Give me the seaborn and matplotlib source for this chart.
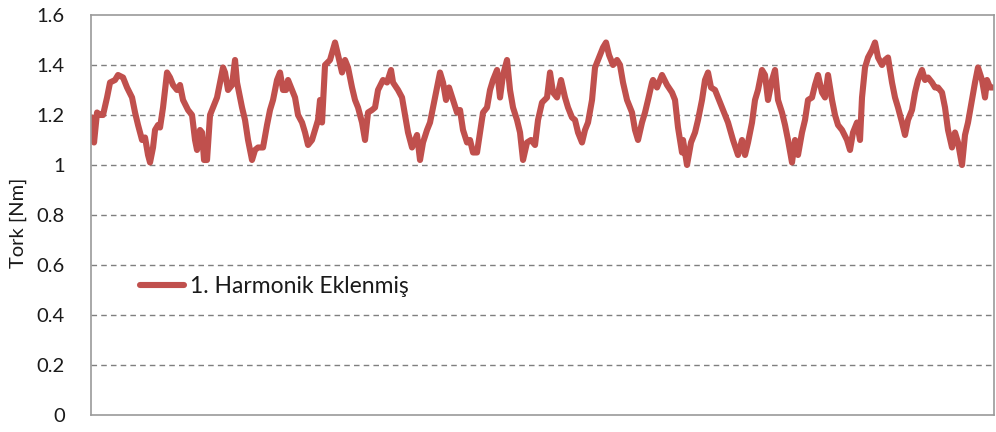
import matplotlib
matplotlib.use("Agg")
import matplotlib.pyplot as plt
import seaborn as sns
import pandas as pd

# Torque trace with the 1st harmonic injected (sample index, torque in Nm)
sample = [1, 3, 6, 9, 12, 16, 19, 24, 27, 32, 36, 41, 44, 47, 51, 54, 57, 59, 62, 64,
          67, 69, 72, 76, 79, 82, 86, 89, 92, 97, 101, 104, 106, 109, 111, 113, 116, 119, 122, 126,
          129, 132, 134, 137, 141, 144, 146, 151, 154, 157, 161, 164, 167, 172, 176, 179, 182, 186, 189, 192,
          195, 197, 201, 204, 207, 211, 214, 217, 221, 224, 227, 229, 231, 234, 239, 244, 247, 251, 254, 257,
          261, 264, 267, 271, 274, 277, 281, 284, 287, 292, 296, 300, 302, 307, 311, 314, 317, 321, 326, 329,
          332, 336, 339, 342, 346, 349, 352, 355, 358, 362, 366, 369, 372, 376, 379, 382, 386, 389, 392, 396,
          399, 402, 406, 409, 412, 416, 419, 422, 426, 429, 432, 436, 440, 444, 447, 451, 456, 459, 462, 466,
          470, 474, 477, 481, 484, 487, 491, 494, 497, 501, 504, 507, 512, 515, 518, 522, 526, 529, 532, 536,
          541, 544, 547, 551, 554, 557, 561, 562, 566, 571, 576, 581, 584, 587, 587, 591, 592, 596, 600, 604,
          607, 611, 614, 617, 620, 624, 629, 633, 637, 642, 647, 651, 654, 657, 661, 664, 667, 671, 674, 677,
          681, 684, 687, 691, 694, 697, 701, 704, 707, 711, 714, 717, 721, 724, 727, 731, 734, 737, 741, 744,
          747, 751, 756, 759, 762, 766, 769, 771, 774, 777, 781, 784, 787, 791, 794, 797, 801, 804, 807, 811,
          814, 817, 821, 824, 827, 831, 834, 837, 841, 844, 847, 851, 854, 857, 861, 864, 867, 871, 874, 877,
          881, 884, 887, 891, 894, 896, 899, 902]
torque = [1.19, 1.09, 1.21, 1.20, 1.20, 1.27, 1.33, 1.34, 1.36, 1.35, 1.31, 1.27, 1.21, 1.16, 1.10, 1.11, 1.04, 1.01, 1.07, 1.14,
          1.16, 1.15, 1.23, 1.37, 1.35, 1.32, 1.30, 1.32, 1.26, 1.22, 1.20, 1.10, 1.06, 1.14, 1.13, 1.02, 1.02, 1.20, 1.23, 1.27,
          1.33, 1.39, 1.37, 1.30, 1.32, 1.42, 1.33, 1.23, 1.18, 1.10, 1.02, 1.06, 1.07, 1.07, 1.16, 1.22, 1.26, 1.34, 1.37, 1.30,
          1.30, 1.34, 1.30, 1.27, 1.20, 1.17, 1.13, 1.08, 1.10, 1.14, 1.18, 1.26, 1.17, 1.40, 1.42, 1.49, 1.44, 1.37, 1.42, 1.39,
          1.31, 1.26, 1.23, 1.17, 1.10, 1.21, 1.22, 1.23, 1.30, 1.34, 1.33, 1.38, 1.33, 1.30, 1.27, 1.20, 1.13, 1.07, 1.12, 1.02,
          1.09, 1.14, 1.17, 1.23, 1.31, 1.37, 1.33, 1.26, 1.31, 1.26, 1.21, 1.22, 1.14, 1.09, 1.10, 1.05, 1.05, 1.13, 1.21, 1.23,
          1.30, 1.34, 1.38, 1.27, 1.36, 1.42, 1.30, 1.23, 1.18, 1.13, 1.02, 1.09, 1.10, 1.08, 1.18, 1.25, 1.27, 1.37, 1.29, 1.27,
          1.34, 1.27, 1.23, 1.19, 1.18, 1.13, 1.09, 1.14, 1.17, 1.26, 1.39, 1.42, 1.47, 1.49, 1.44, 1.40, 1.42, 1.40, 1.33, 1.26,
          1.21, 1.14, 1.10, 1.17, 1.21, 1.26, 1.33, 1.34, 1.31, 1.36, 1.32, 1.29, 1.26, 1.20, 1.10, 1.05, 1.10, 1.00, 1.09, 1.13,
          1.18, 1.26, 1.34, 1.37, 1.31, 1.30, 1.25, 1.21, 1.17, 1.10, 1.04, 1.10, 1.04, 1.09, 1.17, 1.26, 1.30, 1.38, 1.36, 1.26,
          1.34, 1.38, 1.26, 1.21, 1.16, 1.10, 1.01, 1.10, 1.04, 1.13, 1.18, 1.26, 1.27, 1.32, 1.36, 1.29, 1.27, 1.36, 1.26, 1.20,
          1.16, 1.14, 1.10, 1.06, 1.13, 1.17, 1.10, 1.27, 1.39, 1.43, 1.46, 1.49, 1.43, 1.40, 1.42, 1.43, 1.33, 1.27, 1.23, 1.17,
          1.12, 1.18, 1.22, 1.29, 1.34, 1.38, 1.34, 1.35, 1.33, 1.31, 1.31, 1.29, 1.23, 1.14, 1.07, 1.13, 1.09, 1.00, 1.12, 1.17,
          1.26, 1.33, 1.39, 1.34, 1.27, 1.34, 1.31, 1.31]
series_name = "1. Harmonik Eklenmiş"
y_ticks = [0, 0.2, 0.4, 0.6, 0.8, 1.0, 1.2, 1.4, 1.6]
y_tick_labels = ["0", "0.2", "0.4", "0.6", "0.8", "1", "1.2", "1.4", "1.6"]
y_label = "Tork [Nm]"

df = pd.DataFrame({"sample": sample, "torque": torque, "series": series_name})

sns.set_theme(style="white")
plt.rcParams["font.family"] = ["Lato", "DejaVu Sans"]

fig = plt.figure(figsize=(9.96, 4.32), dpi=100)
ax = fig.add_axes([0.0914, 0.0394, 0.9066, 0.9259])

sns.lineplot(data=df, x="sample", y="torque", hue="series",
             palette=["#C0504D"], linewidth=4.4, ax=ax, sort=False)

ax.set_xlim(0, 903)
ax.set_ylim(0, 1.6)
ax.set_xticks([])
ax.set_yticks(y_ticks)
ax.set_yticklabels(y_tick_labels, fontsize=14.5, color="#1a1a1a")
ax.tick_params(axis="y", length=0, pad=19)
ax.set_xlabel("")
ax.set_ylabel(y_label, fontsize=14.5, color="#1a1a1a")
ax.yaxis.set_label_coords(-0.071, 0.48)

for v in y_ticks[1:-1]:
    ax.axhline(v, color="#7f7f7f", linestyle=(0, (4, 3)), linewidth=1.0, zorder=0)

for side in ["left", "bottom", "top", "right"]:
    ax.spines[side].set_visible(True)
    ax.spines[side].set_color("#9a9a9a")
    ax.spines[side].set_linewidth(1.2)

ax.legend(loc="center left", bbox_to_anchor=(0.054, 0.32), frameon=False,
          fontsize=16.5, handlelength=1.95, handletextpad=0.26, borderpad=0,
          borderaxespad=0, labelcolor="#1a1a1a")

fig.savefig("out.png", dpi=100)
